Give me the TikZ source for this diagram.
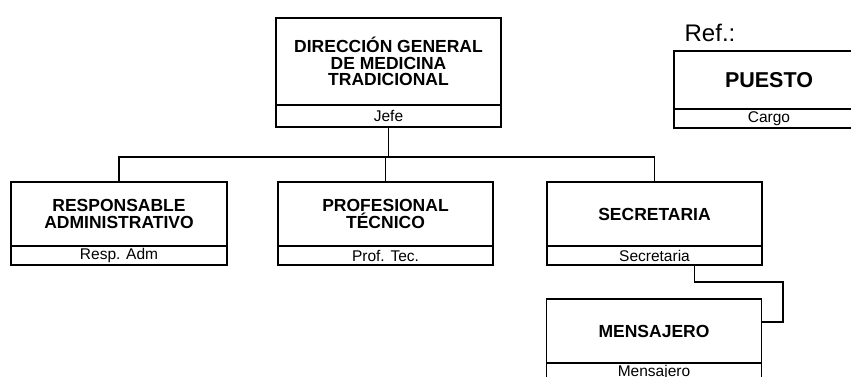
\documentclass[tikz,border=0pt]{standalone}
\usepackage{fontspec}
\setmainfont{Liberation Sans}
\usetikzlibrary{positioning}
\begin{document}
\begin{tikzpicture}[x=1pt, y=-1pt,
  puesto/.style={rectangle, draw, line width=1.2pt, outer sep=0pt, inner sep=0pt, minimum width=215pt, minimum height=64pt, align=center, font=\fontsize{17.5}{16.5}\selectfont\bfseries},
  cargo/.style={rectangle, draw, line width=1.2pt, outer sep=0pt, inner sep=0pt, minimum width=215pt, minimum height=19pt, font=\fontsize{15.5}{16}\selectfont},
  linea/.style={line width=1.2pt}
]
\useasboundingbox (0,0) rectangle (851,376);

\node[puesto, minimum width=225pt, minimum height=87pt] (dir) at (388.5,61.5) {DIRECCIÓN GENERAL\\DE MEDICINA\\TRADICIONAL};
\node[cargo, minimum width=225pt, minimum height=22pt, below=0pt of dir] (dirc) {Jefe};

\node[puesto, minimum width=216pt] (resp) at (119,214) {RESPONSABLE\\ADMINISTRATIVO};
\node[cargo, minimum width=216pt, below=0pt of resp] (respc) {Resp. Adm};
\node[puesto] (prof) at (385.5,214) {PROFESIONAL\\TÉCNICO};
\node[cargo, below=0pt of prof] (profc) {Prof. Tec.};
\node[puesto] (secr) at (654.5,214) {SECRETARIA};
\node[cargo, below=0pt of secr] (secrc) {Secretaria};
\node[puesto] (mens) at (654,331) {MENSAJERO};
\node[cargo, below=0pt of mens] (mensc) {Mensajero};

\node[font=\fontsize{24}{26}\selectfont] (reftxt) at (710,33) {Ref.:};
\node[puesto, minimum width=190pt, minimum height=58pt, font=\fontsize{21.5}{22}\selectfont\bfseries] (ref) at (769,80) {PUESTO};
\node[cargo, minimum width=190pt, below=0pt of ref] (refc) {Cargo};

\coordinate (bus) at ([yshift=-30pt]dirc.south);
\draw[linea] (dirc.south) -- (bus);
\draw[linea] (bus) -| (resp);
\draw[linea] (bus) -| (prof);
\draw[linea] (bus) -| (secr);

\coordinate (codo) at (783,282);
\draw[linea] ([xshift=40pt]secrc.south) |- (codo) |- ([yshift=9pt]mens.east);
\end{tikzpicture}
\end{document}
